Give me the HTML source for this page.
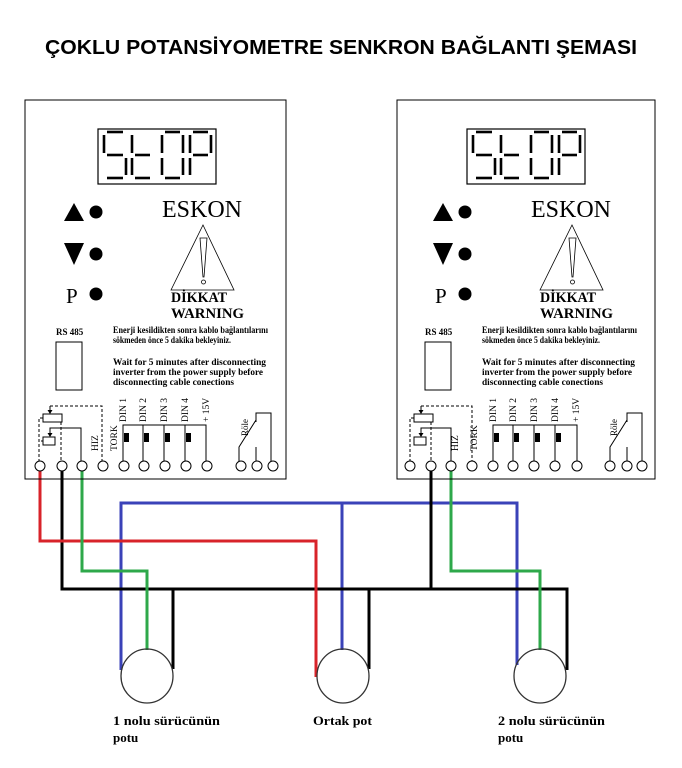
<!DOCTYPE html>
<html><head><meta charset="utf-8"><style>
html,body{margin:0;padding:0;background:#fff;}
svg{display:block;}
.s{font-family:"Liberation Serif",serif;font-weight:bold;}
.n{font-family:"Liberation Serif",serif;font-weight:normal;}
</style></head><body>
<svg width="682" height="768" viewBox="0 0 682 768" xmlns="http://www.w3.org/2000/svg">
<rect width="682" height="768" fill="#fff"/>
<text x="45" y="54" font-family="Liberation Sans, sans-serif" font-weight="bold" font-size="20" textLength="592" lengthAdjust="spacingAndGlyphs">ÇOKLU POTANSİYOMETRE SENKRON BAĞLANTI ŞEMASI</text>

<!-- wires -->
<g fill="none" stroke-width="3">
<polyline stroke="#3a42b8" points="121,670 121,503 517,503 517,665"/>
<line stroke="#3a42b8" x1="342" y1="503" x2="342" y2="650"/>
<polyline stroke="#000" points="62,470 62,589 567,589 567,670"/>
<line stroke="#000" x1="173" y1="589" x2="173" y2="669"/>
<line stroke="#000" x1="369" y1="589" x2="369" y2="669"/>
<line stroke="#000" x1="431" y1="470" x2="431" y2="589"/>
<polyline stroke="#d8232a" points="40,470 40,541 316,541 316,677"/>
<polyline stroke="#2ea84a" points="82,470 82,571 147,571 147,650"/>
<polyline stroke="#2ea84a" points="451,470 451,571 540,571 540,650"/>
</g>
<g fill="none" stroke="#333" stroke-width="1.3">
<ellipse cx="147" cy="676" rx="26" ry="27"/>
<ellipse cx="343" cy="676" rx="26" ry="27"/>
<ellipse cx="540" cy="676" rx="26" ry="27"/>
</g>
<g class="s" font-size="13">
<text x="113" y="725" textLength="107" lengthAdjust="spacingAndGlyphs">1 nolu sürücünün</text>
<text x="113" y="742">potu</text>
<text x="313" y="725" textLength="59" lengthAdjust="spacingAndGlyphs">Ortak pot</text>
<text x="498" y="725" textLength="107" lengthAdjust="spacingAndGlyphs">2 nolu sürücünün</text>
<text x="498" y="742">potu</text>
</g>

<!-- BOX 1 -->
<g transform="translate(25,100)">
<rect x="0" y="0" width="261" height="379" fill="none" stroke="#000" stroke-width="1"/>
<rect x="73" y="29" width="118" height="55" fill="none" stroke="#000" stroke-width="1.2"/>
<g stroke="#000" stroke-width="2.6" fill="none">
<line x1="82" y1="32" x2="98" y2="32"/><line x1="79" y1="35" x2="79" y2="53"/><line x1="82" y1="55" x2="98" y2="55"/><line x1="101" y1="58" x2="101" y2="75"/><line x1="82" y1="78" x2="98" y2="78"/>
<line x1="107" y1="35" x2="107" y2="53"/><line x1="107" y1="58" x2="107" y2="75"/><line x1="110" y1="55" x2="125" y2="55"/><line x1="110" y1="78" x2="125" y2="78"/>
<line x1="140" y1="32" x2="155" y2="32"/><line x1="137" y1="35" x2="137" y2="53"/><line x1="158" y1="35" x2="158" y2="53"/><line x1="137" y1="58" x2="137" y2="75"/><line x1="158" y1="58" x2="158" y2="75"/><line x1="140" y1="78" x2="155" y2="78"/>
<line x1="168" y1="32" x2="183" y2="32"/><line x1="165" y1="35" x2="165" y2="53"/><line x1="186" y1="35" x2="186" y2="53"/><line x1="168" y1="55" x2="183" y2="55"/><line x1="165" y1="58" x2="165" y2="75"/>
</g>
<text x="137" y="117" font-family="Liberation Serif,serif" font-size="24" textLength="80" lengthAdjust="spacingAndGlyphs">ESKON</text>
<polygon points="39,121 49,103 59,121" fill="#000"/><circle cx="71" cy="112" r="6.5" fill="#000"/>
<polygon points="39,143 59,143 49,165" fill="#000"/><circle cx="71" cy="154" r="6.5" fill="#000"/>
<text x="41" y="203" font-family="Liberation Serif,serif" font-size="21">P</text><circle cx="71" cy="194" r="6.5" fill="#000"/>
<polygon points="146,190 178,125 209,190" fill="none" stroke="#000" stroke-width="0.8"/>
<polygon points="175,138 182,138 179,177 178,177" fill="none" stroke="#000" stroke-width="0.8"/>
<circle cx="178.5" cy="182" r="2" fill="none" stroke="#000" stroke-width="0.8"/>
<g class="s">
<text x="146" y="202" font-size="15" textLength="56" lengthAdjust="spacingAndGlyphs">DİKKAT</text>
<text x="146" y="218" font-size="15" textLength="73" lengthAdjust="spacingAndGlyphs">WARNING</text>
<g font-size="9.5">
<text x="88" y="233" textLength="155" lengthAdjust="spacingAndGlyphs">Enerji kesildikten sonra kablo bağlantılarını</text>
<text x="88" y="243" textLength="118" lengthAdjust="spacingAndGlyphs">sökmeden önce 5 dakika bekleyiniz.</text>
<text x="88" y="265" textLength="153" lengthAdjust="spacingAndGlyphs">Wait for 5 minutes after disconnecting</text>
<text x="88" y="275" textLength="150" lengthAdjust="spacingAndGlyphs">inverter from the power supply before</text>
<text x="88" y="285" textLength="121" lengthAdjust="spacingAndGlyphs">disconnecting cable conections</text>
<text x="31" y="235" font-size="9">RS 485</text>
</g>
</g>
<g class="n" font-size="9.5">
<text transform="translate(73,351) rotate(-90)">HIZ</text>
<text transform="translate(92,351) rotate(-90)">TORK</text>
<text transform="translate(101,322) rotate(-90)">DIN 1</text>
<text transform="translate(121,322) rotate(-90)">DIN 2</text>
<text transform="translate(142,322) rotate(-90)">DIN 3</text>
<text transform="translate(163,322) rotate(-90)">DIN 4</text>
<text transform="translate(184,322) rotate(-90)">+ 15V</text>
<text transform="translate(223,336) rotate(-90)" font-size="9">Röle</text>
</g>
<rect x="31" y="242" width="26" height="48" fill="none" stroke="#000"/>
<g fill="none" stroke="#000" stroke-width="1">
<polyline stroke-dasharray="3,2" points="25,306 77,306 77,361"/>
<polyline stroke-dasharray="3,2" points="18,318 14,318 14,361"/>
<line stroke-dasharray="3,2" x1="36" y1="322" x2="36" y2="361"/>
<line stroke-dasharray="3,2" x1="16" y1="341" x2="18" y2="341"/>
<line x1="25" y1="306" x2="25" y2="312"/>
<rect x="18" y="314" width="19" height="8"/>
<polyline points="56,361 56,328 25,328 25,335"/>
<rect x="18" y="337" width="12" height="8"/>
<polyline points="98,361 98,325 181,325 181,361"/>
<line x1="118" y1="325" x2="118" y2="361"/>
<line x1="139" y1="325" x2="139" y2="361"/>
<line x1="160" y1="325" x2="160" y2="361"/>
<polyline points="214,361 214,347 231,320"/>
<line x1="231" y1="361" x2="231" y2="347"/>
<polyline points="246,361 246,313 231,313 231,322"/>
</g>
<g fill="#000">
<polygon points="22.5,310 27.5,310 25,314"/><polygon points="22.5,333 27.5,333 25,337"/>
<rect x="99" y="333" width="5" height="9"/><rect x="119" y="333" width="5" height="9"/><rect x="140" y="333" width="5" height="9"/><rect x="161" y="333" width="5" height="9"/>
</g>
<g fill="#fff" stroke="#000" stroke-width="1">
<circle cx="15" cy="366" r="5"/><circle cx="37" cy="366" r="5"/><circle cx="57" cy="366" r="5"/><circle cx="78" cy="366" r="5"/>
<circle cx="99" cy="366" r="5"/><circle cx="119" cy="366" r="5"/><circle cx="140" cy="366" r="5"/><circle cx="161" cy="366" r="5"/><circle cx="182" cy="366" r="5"/>
<circle cx="216" cy="366" r="5"/><circle cx="232" cy="366" r="5"/><circle cx="248" cy="366" r="5"/>
</g>
</g>

<!-- BOX 2 -->
<g transform="translate(397,100)">
<rect x="0" y="0" width="258" height="379" fill="none" stroke="#000" stroke-width="1"/>
<rect x="70" y="29" width="118" height="55" fill="none" stroke="#000" stroke-width="1.2"/>
<g transform="translate(-3,0)">
<g stroke="#000" stroke-width="2.6" fill="none">
<line x1="82" y1="32" x2="98" y2="32"/><line x1="79" y1="35" x2="79" y2="53"/><line x1="82" y1="55" x2="98" y2="55"/><line x1="101" y1="58" x2="101" y2="75"/><line x1="82" y1="78" x2="98" y2="78"/>
<line x1="107" y1="35" x2="107" y2="53"/><line x1="107" y1="58" x2="107" y2="75"/><line x1="110" y1="55" x2="125" y2="55"/><line x1="110" y1="78" x2="125" y2="78"/>
<line x1="140" y1="32" x2="155" y2="32"/><line x1="137" y1="35" x2="137" y2="53"/><line x1="158" y1="35" x2="158" y2="53"/><line x1="137" y1="58" x2="137" y2="75"/><line x1="158" y1="58" x2="158" y2="75"/><line x1="140" y1="78" x2="155" y2="78"/>
<line x1="168" y1="32" x2="183" y2="32"/><line x1="165" y1="35" x2="165" y2="53"/><line x1="186" y1="35" x2="186" y2="53"/><line x1="168" y1="55" x2="183" y2="55"/><line x1="165" y1="58" x2="165" y2="75"/>
</g>
<text x="137" y="117" font-family="Liberation Serif,serif" font-size="24" textLength="80" lengthAdjust="spacingAndGlyphs">ESKON</text>
<polygon points="39,121 49,103 59,121" fill="#000"/><circle cx="71" cy="112" r="6.5" fill="#000"/>
<polygon points="39,143 59,143 49,165" fill="#000"/><circle cx="71" cy="154" r="6.5" fill="#000"/>
<text x="41" y="203" font-family="Liberation Serif,serif" font-size="21">P</text><circle cx="71" cy="194" r="6.5" fill="#000"/>
<polygon points="146,190 178,125 209,190" fill="none" stroke="#000" stroke-width="0.8"/>
<polygon points="175,138 182,138 179,177 178,177" fill="none" stroke="#000" stroke-width="0.8"/>
<circle cx="178.5" cy="182" r="2" fill="none" stroke="#000" stroke-width="0.8"/>
<g class="s">
<text x="146" y="202" font-size="15" textLength="56" lengthAdjust="spacingAndGlyphs">DİKKAT</text>
<text x="146" y="218" font-size="15" textLength="73" lengthAdjust="spacingAndGlyphs">WARNING</text>
<g font-size="9.5">
<text x="88" y="233" textLength="155" lengthAdjust="spacingAndGlyphs">Enerji kesildikten sonra kablo bağlantılarını</text>
<text x="88" y="243" textLength="118" lengthAdjust="spacingAndGlyphs">sökmeden önce 5 dakika bekleyiniz.</text>
<text x="88" y="265" textLength="153" lengthAdjust="spacingAndGlyphs">Wait for 5 minutes after disconnecting</text>
<text x="88" y="275" textLength="150" lengthAdjust="spacingAndGlyphs">inverter from the power supply before</text>
<text x="88" y="285" textLength="121" lengthAdjust="spacingAndGlyphs">disconnecting cable conections</text>
<text x="31" y="235" font-size="9">RS 485</text>
</g>
</g>
<rect x="31" y="242" width="26" height="48" fill="none" stroke="#000"/>
</g>
<g class="n" font-size="9.5">
<text transform="translate(61,351) rotate(-90)">HIZ</text>
<text transform="translate(80,351) rotate(-90)">TORK</text>
<text transform="translate(99,322) rotate(-90)">DIN 1</text>
<text transform="translate(119,322) rotate(-90)">DIN 2</text>
<text transform="translate(140,322) rotate(-90)">DIN 3</text>
<text transform="translate(161,322) rotate(-90)">DIN 4</text>
<text transform="translate(182,322) rotate(-90)">+ 15V</text>
<text transform="translate(220,336) rotate(-90)" font-size="9">Röle</text>
</g>
<g fill="none" stroke="#000" stroke-width="1">
<polyline stroke-dasharray="3,2" points="24,306 75,306 75,361"/>
<polyline stroke-dasharray="3,2" points="17,318 13,318 13,361"/>
<line stroke-dasharray="3,2" x1="34" y1="322" x2="34" y2="361"/>
<line x1="24" y1="306" x2="24" y2="312"/>
<rect x="17" y="314" width="19" height="8"/>
<polyline points="54,361 54,328 24,328 24,335"/>
<rect x="17" y="337" width="12" height="8"/>
<polyline points="96,361 96,325 180,325 180,361"/>
<line x1="116" y1="325" x2="116" y2="361"/>
<line x1="137" y1="325" x2="137" y2="361"/>
<line x1="158" y1="325" x2="158" y2="361"/>
<polyline points="213,361 213,347 230,320"/>
<line x1="230" y1="361" x2="230" y2="347"/>
<polyline points="245,361 245,313 230,313 230,322"/>
</g>
<g fill="#000">
<polygon points="21.5,310 26.5,310 24,314"/><polygon points="21.5,333 26.5,333 24,337"/>
<rect x="97" y="333" width="5" height="9"/><rect x="117" y="333" width="5" height="9"/><rect x="138" y="333" width="5" height="9"/><rect x="159" y="333" width="5" height="9"/>
</g>
<g fill="#fff" stroke="#000" stroke-width="1">
<circle cx="13" cy="366" r="5"/><circle cx="34" cy="366" r="5"/><circle cx="54" cy="366" r="5"/><circle cx="75" cy="366" r="5"/>
<circle cx="96" cy="366" r="5"/><circle cx="116" cy="366" r="5"/><circle cx="137" cy="366" r="5"/><circle cx="158" cy="366" r="5"/><circle cx="180" cy="366" r="5"/>
<circle cx="213" cy="366" r="5"/><circle cx="230" cy="366" r="5"/><circle cx="245" cy="366" r="5"/>
</g>
</g>
</svg>
</body></html>
